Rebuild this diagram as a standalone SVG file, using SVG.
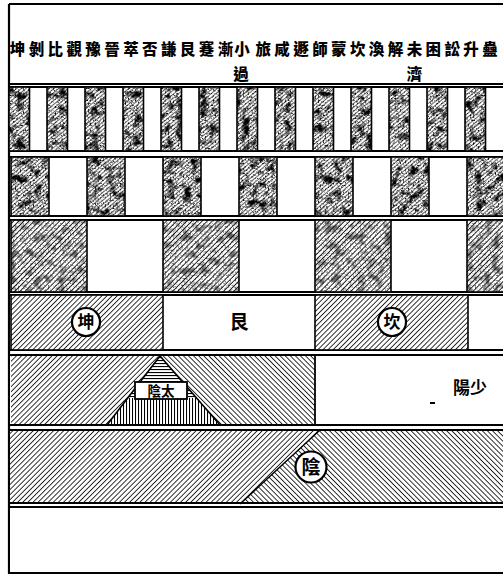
<svg xmlns="http://www.w3.org/2000/svg" width="503" height="578" viewBox="0 0 503 578">
<style>
.row{fill:#fff;stroke:#000;stroke-width:2}
.dk{stroke:#000;stroke-width:1.6}
.hd{font-family:"Noto Sans CJK TC","Noto Sans CJK SC",sans-serif;font-weight:900;font-size:15.5px;fill:#000;text-anchor:middle}
.lb{font-family:"Noto Sans CJK TC","Noto Sans CJK SC",sans-serif;font-weight:700;fill:#000;text-anchor:middle}
.cir{fill:#fff;stroke:#000;stroke-width:2.2}
.edge{fill:none;stroke:#000;stroke-width:1.6}
</style>
<defs>
<pattern id="hr" width="3.6" height="3.6" patternUnits="userSpaceOnUse" patternTransform="rotate(45)">
<rect width="3.6" height="3.6" fill="#fff"/><line x1="0" y1="0" x2="0" y2="3.6" stroke="#000" stroke-width="1.6"/>
</pattern>
<pattern id="hl" width="3.6" height="3.6" patternUnits="userSpaceOnUse" patternTransform="rotate(-45)">
<rect width="3.6" height="3.6" fill="#fff"/><line x1="0" y1="0" x2="0" y2="3.6" stroke="#000" stroke-width="1.6"/>
</pattern>
<pattern id="hh" width="4" height="3" patternUnits="userSpaceOnUse">
<rect width="4" height="3" fill="#fff"/><line x1="0" y1="0.5" x2="4" y2="0.5" stroke="#000" stroke-width="1.2"/>
</pattern>
<pattern id="hv" width="3" height="4" patternUnits="userSpaceOnUse">
<rect width="3" height="4" fill="#fff"/><line x1="0.5" y1="0" x2="0.5" y2="4" stroke="#000" stroke-width="1.1"/>
</pattern>
<pattern id="hm" width="3" height="3" patternUnits="userSpaceOnUse" patternTransform="rotate(50)">
<rect width="3" height="3" fill="#fff"/><line x1="0" y1="0" x2="0" y2="3" stroke="#000" stroke-width="1.2"/>
</pattern>
<filter id="mottle" x="0" y="0" width="100%" height="100%" filterUnits="objectBoundingBox">
<feTurbulence type="fractalNoise" baseFrequency="0.12" numOctaves="4" seed="11" result="n"/>
<feColorMatrix in="n" type="matrix" values="0 0 0 0 0  0 0 0 0 0  0 0 0 0 0  3.6 0 0 0 -1.75" result="m"/>
<feTurbulence type="fractalNoise" baseFrequency="0.6" numOctaves="1" seed="3" result="g"/>
<feColorMatrix in="g" type="matrix" values="0 0 0 0 0  0 0 0 0 0  0 0 0 0 0  4 0 0 0 -2.1" result="gm"/>
<feMerge result="all"><feMergeNode in="m"/><feMergeNode in="gm"/></feMerge>
<feComposite in="all" in2="SourceAlpha" operator="in"/>
</filter>
</defs>
<rect width="503" height="578" fill="#fff"/>

<g id="frame">
<line x1="9" y1="4" x2="9" y2="574" stroke="#000" stroke-width="2.2"/>
<line x1="9" y1="4" x2="503" y2="4" stroke="#000" stroke-width="2"/>
<line x1="9" y1="84" x2="503" y2="84" stroke="#000" stroke-width="2"/>
</g>

<g id="header">
<text class="hd" y="55" x="17.5 36.4 55.3 74.2 93.1 112 130.9 149.8 168.7 187.6 206.5 225.4 242 263.2 282.1 301 319.9 338.8 357.7 376.6 395.5 414.4 433.3 452.2 471.1 490">坤剝比觀豫晉萃否謙艮蹇漸小旅咸遯師蒙坎渙解未困訟升蠱</text>
<text class="hd" y="79.5" x="241">過</text>
<text class="hd" y="79.5" x="414.4">濟</text>
</g>

<g id="row1">
<rect class="row" x="9" y="87" width="500" height="64"/>
<g fill="url(#hm)" class="dk">
<rect x="9" y="87" width="20.5" height="64"/><rect x="47" y="87" width="20.5" height="64"/><rect x="85" y="87" width="20.5" height="64"/><rect x="123" y="87" width="20.5" height="64"/><rect x="161" y="87" width="20.5" height="64"/><rect x="199" y="87" width="20.5" height="64"/><rect x="237" y="87" width="20.5" height="64"/><rect x="275" y="87" width="20.5" height="64"/><rect x="313" y="87" width="20.5" height="64"/><rect x="351" y="87" width="20.5" height="64"/><rect x="389" y="87" width="20.5" height="64"/><rect x="427" y="87" width="20.5" height="64"/><rect x="465" y="87" width="20.5" height="64"/>
</g>
<g filter="url(#mottle)" fill="#000">
<rect x="9" y="87" width="20.5" height="64"/><rect x="47" y="87" width="20.5" height="64"/><rect x="85" y="87" width="20.5" height="64"/><rect x="123" y="87" width="20.5" height="64"/><rect x="161" y="87" width="20.5" height="64"/><rect x="199" y="87" width="20.5" height="64"/><rect x="237" y="87" width="20.5" height="64"/><rect x="275" y="87" width="20.5" height="64"/><rect x="313" y="87" width="20.5" height="64"/><rect x="351" y="87" width="20.5" height="64"/><rect x="389" y="87" width="20.5" height="64"/><rect x="427" y="87" width="20.5" height="64"/><rect x="465" y="87" width="20.5" height="64"/>
</g>
</g>

<g id="row2">
<rect class="row" x="9" y="157" width="500" height="59"/>
<g fill="url(#hm)" class="dk">
<rect x="11" y="157" width="38" height="59"/><rect x="87" y="157" width="38" height="59"/><rect x="163" y="157" width="38" height="59"/><rect x="239" y="157" width="38" height="59"/><rect x="315" y="157" width="38" height="59"/><rect x="391" y="157" width="38" height="59"/><rect x="467" y="157" width="38" height="59"/>
</g>
<g filter="url(#mottle)" fill="#000">
<rect x="11" y="157" width="38" height="59"/><rect x="87" y="157" width="38" height="59"/><rect x="163" y="157" width="38" height="59"/><rect x="239" y="157" width="38" height="59"/><rect x="315" y="157" width="38" height="59"/><rect x="391" y="157" width="38" height="59"/><rect x="467" y="157" width="38" height="59"/>
</g>
</g>

<g id="row3">
<rect class="row" x="9" y="220" width="500" height="72"/>
<g fill="url(#hr)" class="dk">
<rect x="11" y="220" width="76" height="72"/><rect x="163" y="220" width="76" height="72"/><rect x="315" y="220" width="76" height="72"/><rect x="467" y="220" width="40" height="72"/>
</g>
<g filter="url(#mottle)" fill="#000" opacity="0.6">
<rect x="11" y="220" width="76" height="72"/><rect x="163" y="220" width="76" height="72"/><rect x="315" y="220" width="76" height="72"/><rect x="467" y="220" width="40" height="72"/>
</g>
</g>

<g id="row4">
<rect class="row" x="9" y="295" width="500" height="55"/>
<rect x="11" y="295" width="152" height="55" fill="url(#hr)" class="dk"/>
<rect x="315" y="295" width="153" height="55" fill="url(#hr)" class="dk"/>
<g id="kun"><circle class="cir" cx="86" cy="322" r="14"/><text class="lb" x="86" y="328" font-size="17">坤</text></g>
<g id="gen"><text class="lb" x="239" y="329" font-size="19">艮</text></g>
<g id="kan"><circle class="cir" cx="392" cy="322" r="14"/><text class="lb" x="392" y="328" font-size="17">坎</text></g>
</g>

<g id="row5">
<rect class="row" x="9" y="355" width="500" height="70"/>
<polygon points="11,355 160,355 107,425 11,425" fill="url(#hr)"/>
<polygon points="160,355 315,355 315,425 220,425" fill="url(#hl)"/>
<polygon points="160,355 107,425 220,425" style="fill:url(#hh)"/>
<polygon points="128,398 197,398 220,425 107,425" fill="url(#hv)"/>
<polyline points="107,425 160,356 220,425" class="edge"/>
<line x1="315" y1="355" x2="315" y2="425" stroke="#000" stroke-width="1.8"/>
<rect x="9" y="355" width="500" height="70" fill="none" stroke="#000" stroke-width="2"/>
<g id="taiyin"><rect x="135" y="382" width="52" height="17" fill="#fff" stroke="#000" stroke-width="1.8"/><text class="lb" x="161" y="396" font-size="13.5">陰太</text></g>
<g id="shaoyang"><text class="lb" x="470" y="394" font-size="17">陽少</text></g>
<line x1="430" y1="403" x2="435" y2="403" stroke="#000" stroke-width="2"/>
</g>

<g id="row6">
<polygon points="9,430 320,430 240,504 9,504" fill="url(#hr)"/>
<polygon points="320,430 509,430 509,504 240,504" fill="url(#hl)"/>
<line x1="320" y1="430" x2="240" y2="504" stroke="#000" stroke-width="1.4"/>
<rect x="9" y="430" width="500" height="73" fill="none" stroke="#000" stroke-width="2"/>
<g id="yin"><circle class="cir" cx="311" cy="467" r="15.5"/><text class="lb" x="311" y="474" font-size="19">陰</text></g>
</g>

<g id="row7">
<rect class="row" x="9" y="507" width="500" height="66"/>
</g>
</svg>
